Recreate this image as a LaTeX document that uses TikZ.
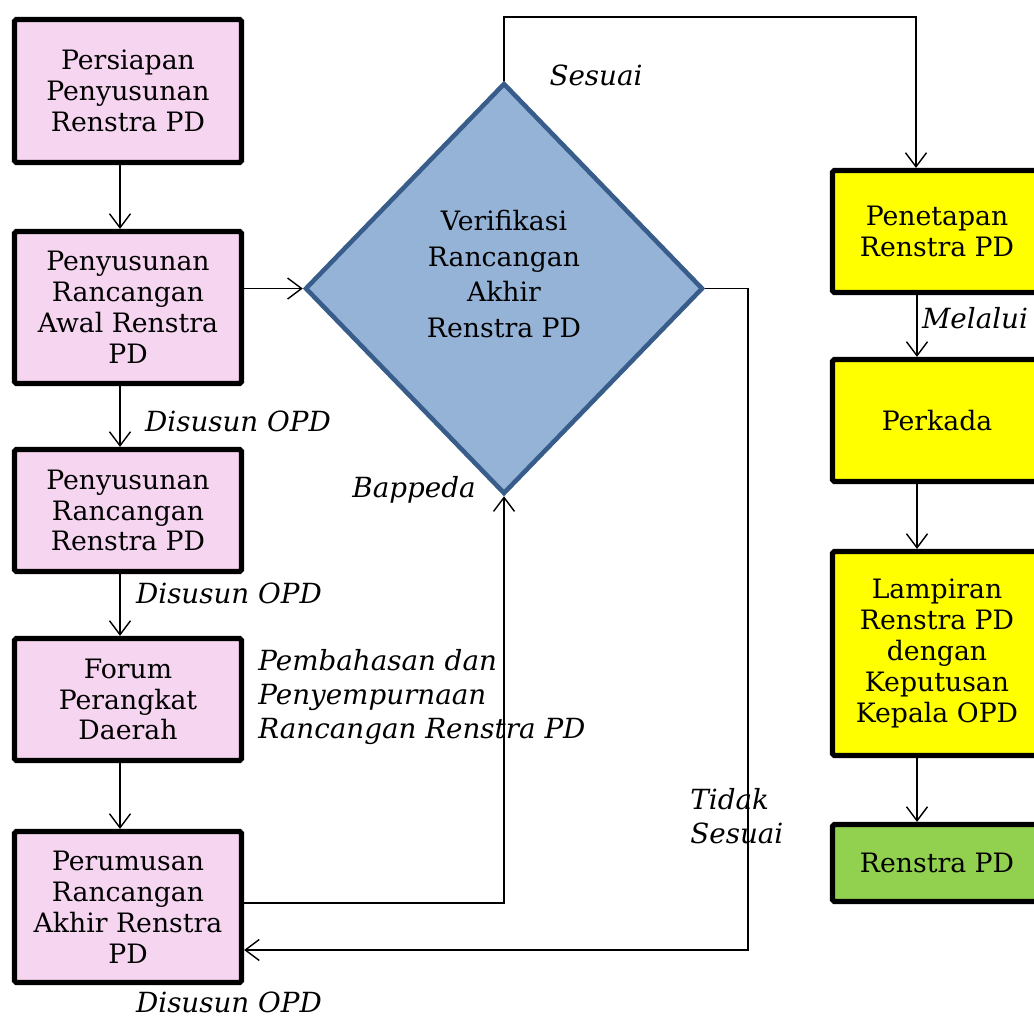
\documentclass[tikz,border=0pt]{standalone}
\usepackage{fontspec}
\setmainfont{DejaVu Serif}
\usetikzlibrary{shapes.geometric,arrows.meta}
\definecolor{merahmuda}{RGB}{246,213,240}
\definecolor{biru}{RGB}{149,179,215}
\definecolor{birutua}{RGB}{56,93,138}
\definecolor{kuning}{RGB}{255,255,0}
\definecolor{hijau}{RGB}{146,208,80}
\begin{document}
\begin{tikzpicture}[x=0.02cm,y=-0.02cm,
    langkah/.style={rectangle,draw=black,line width=3pt,rounded corners=1pt,
        align=center,inner sep=0pt,font=\fontsize{15.2}{17.6}\selectfont},
    kiri/.style={langkah,fill=merahmuda,minimum width=4.54cm},
    kanan/.style={langkah,fill=kuning,minimum width=4.18cm},
    ket/.style={font=\fontsize{15.8}{19.2}\selectfont\itshape,inner sep=0pt}]
    \tikzstyle{panah}=[-{Straight Barb[length=0.28cm,width=0.42cm]},line width=0.8pt]
    \useasboundingbox (0,0) rectangle (1034,1019);

    \node[kiri,minimum height=2.86cm] (persiapan) at (128,91) {Persiapan\\Penyusunan\\Renstra PD};
    \node[kiri,minimum height=3.04cm] (rancawal) at (128,307.5) {Penyusunan\\Rancangan\\Awal Renstra\\PD};
    \node[kiri,minimum height=2.44cm] (rancangan) at (128,510.5) {Penyusunan\\Rancangan\\Renstra PD};
    \node[kiri,minimum height=2.44cm] (forum) at (128,699.5) {Forum\\Perangkat\\Daerah};
    \node[kiri,minimum height=3.02cm] (perumusan) at (128,907) {Perumusan\\Rancangan\\Akhir Renstra\\PD};

    \node[diamond,draw=birutua,fill=biru,line width=2.6pt,inner sep=0pt,
        minimum width=7.96cm,minimum height=8.22cm] (verifikasi) at (504,288.5) {};
    \node[align=center,inner sep=0pt,font=\fontsize{15.2}{20.4}\selectfont] (verifteks) at (504,274)
        {Verifikasi\\Rancangan\\Akhir\\Renstra PD};

    \node[kanan,minimum height=2.44cm] (penetapan) at (937,231.5) {Penetapan\\Renstra PD};
    \node[kanan,minimum height=2.44cm] (perkada) at (937,420.5) {Perkada};
    \node[kanan,minimum height=4.08cm] (lampiran) at (937,653.5) {Lampiran\\Renstra PD\\dengan\\Keputusan\\Kepala OPD};
    \node[kanan,fill=hijau,minimum height=1.54cm] (renstra) at (937,863) {Renstra PD};

    % alur kiri
    \draw[panah] ([xshift=-0.16cm]persiapan.south) -- ([xshift=-0.16cm]rancawal.north);
    \draw[panah] ([xshift=-0.16cm]rancawal.south) -- ([xshift=-0.16cm]rancangan.north);
    \draw[panah] ([xshift=-0.16cm]rancangan.south) -- ([xshift=-0.16cm]forum.north);
    \draw[panah] ([xshift=-0.16cm]forum.south) -- ([xshift=-0.16cm]perumusan.north);
    \draw[panah] (rancawal.east |- verifikasi.west) -- (verifikasi.west);

    % verifikasi
    \coordinate (atas) at (502,17);
    \coordinate (balik) at (748,950);
    \coordinate (naik) at (502,903);
    \draw[panah] (verifikasi.north) -- (verifikasi.north |- atas) -| ([xshift=-0.42cm]penetapan.north);
    \draw[panah] (verifikasi.east) -| (balik) -- (perumusan.east |- balik);
    \draw[panah] (perumusan.east |- naik) -| (verifikasi.south);

    % alur kanan
    \draw[panah] ([xshift=-0.4cm]penetapan.south) -- ([xshift=-0.4cm]perkada.north);
    \draw[panah] ([xshift=-0.4cm]perkada.south) -- ([xshift=-0.4cm]lampiran.north);
    \draw[panah] ([xshift=-0.4cm]lampiran.south) -- ([xshift=-0.4cm]renstra.north);

    % keterangan
    \node[ket] (sesuai) at (596,75) {Sesuai};
    \node[ket] (opd1) at (238,421) {Disusun OPD};
    \node[ket] (opd2) at (229,593) {Disusun OPD};
    \node[ket] (opd3) at (229,1002) {Disusun OPD};
    \node[ket] (bappeda) at (414,490) {Bappeda};
    \node[ket,anchor=west,align=left,font=\fontsize{15.8}{19.4}\selectfont\itshape] (bahas) at (258,697) {Pembahasan dan\\Penyempurnaan\\Rancangan Renstra PD};
    \node[ket,anchor=west,align=left] (tidak) at (690,816) {Tidak\\Sesuai};
    \node[ket] (melalui) at (975,318) {Melalui};

\end{tikzpicture}
\end{document}
